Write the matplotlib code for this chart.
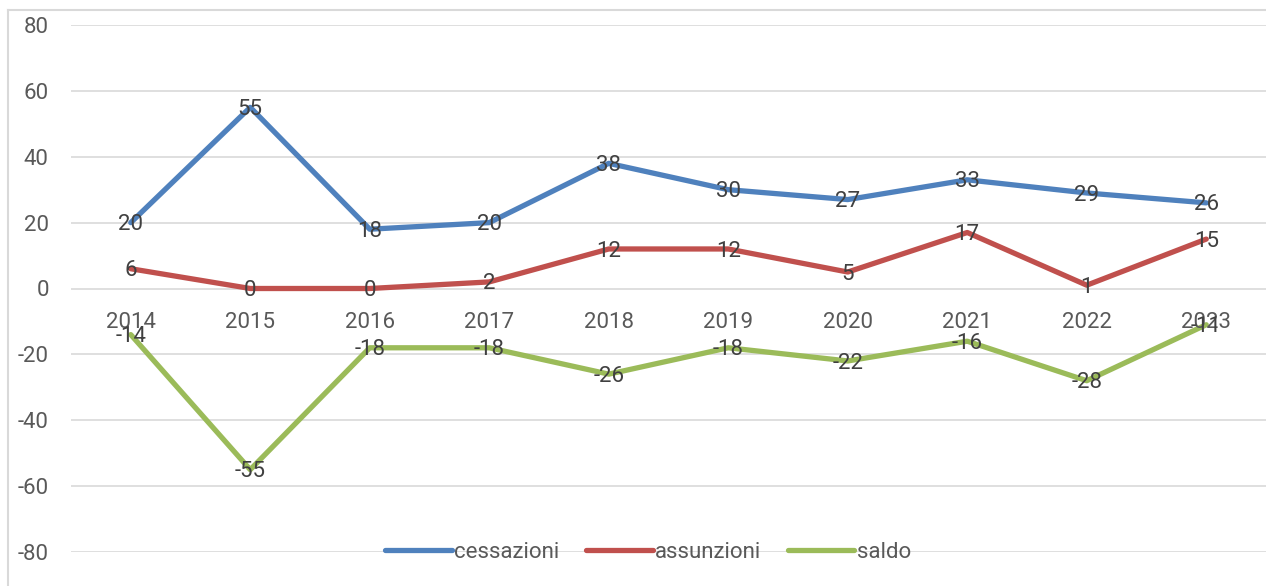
import matplotlib
matplotlib.use("Agg")
import matplotlib.pyplot as plt
from matplotlib.lines import Line2D

years = ["2014", "2015", "2016", "2017", "2018", "2019", "2020", "2021", "2022", "2023"]
cessazioni = [20, 55, 18, 20, 38, 30, 27, 33, 29, 26]
assunzioni = [6, 0, 0, 2, 12, 12, 5, 17, 1, 15]
saldo = [-14, -55, -18, -18, -26, -18, -22, -16, -28, -11]
yticks = [-80, -60, -40, -20, 0, 20, 40, 60, 80]

plt.rcParams["font.family"] = ["Roboto", "DejaVu Sans"]
plt.rcParams["axes.unicode_minus"] = False

fig = plt.figure(figsize=(12.66, 5.86), dpi=100)
ax = fig.add_axes([71 / 1266, 1 - 552 / 586, 1 - 71 / 1266, (552 - 25) / 586])

series = [("cessazioni", cessazioni, "#4F81BD"),
          ("assunzioni", assunzioni, "#C0504D"),
          ("saldo", saldo, "#9BBB59")]
x = list(range(len(years)))
for name, vals, col in series:
    ax.plot(x, vals, color=col, lw=3.8, label=name, solid_capstyle="round", zorder=3)
for name, vals, col in series:
    for xi, v in zip(x, vals):
        ax.annotate(f"{v}", (xi, v), xytext=(0, -1.5), textcoords="offset points",
                    ha="center", va="center", fontsize=16, color="#404040", zorder=5)

# category labels sit under the zero line
for xi, yr in zip(x, years):
    ax.annotate(yr, (xi, 0), xytext=(0, -17), textcoords="offset points",
                ha="center", va="top", fontsize=16, color="#595959", zorder=4)

ax.set_xlim(-0.5, len(years) - 0.5)
ax.set_ylim(-80, 80)
ax.set_yticks(yticks)
ax.set_xticks([])
ax.tick_params(axis="y", length=0, labelsize=16, labelcolor="#595959", pad=16)
ax.grid(axis="y", color="#D9D9D9", lw=1.2, zorder=0)
ax.set_axisbelow(True)
for s in ax.spines.values():
    s.set_visible(False)

# outer chart frame (top and left edges)
fig.add_artist(Line2D([8 / 1266, 1], [1 - 10 / 586] * 2, color="#D9D9D9", lw=1.5, transform=fig.transFigure))
fig.add_artist(Line2D([8 / 1266] * 2, [0, 1 - 10 / 586], color="#D9D9D9", lw=1.5, transform=fig.transFigure))

ax.legend(loc="center", bbox_to_anchor=(648 / 1266, 1 - 552 / 586), bbox_transform=fig.transFigure,
          ncol=3, frameon=False, fontsize=16, handlelength=3.0, handletextpad=0.1, columnspacing=1.2,
          labelcolor="#595959")

fig.savefig("out.png", dpi=100)
